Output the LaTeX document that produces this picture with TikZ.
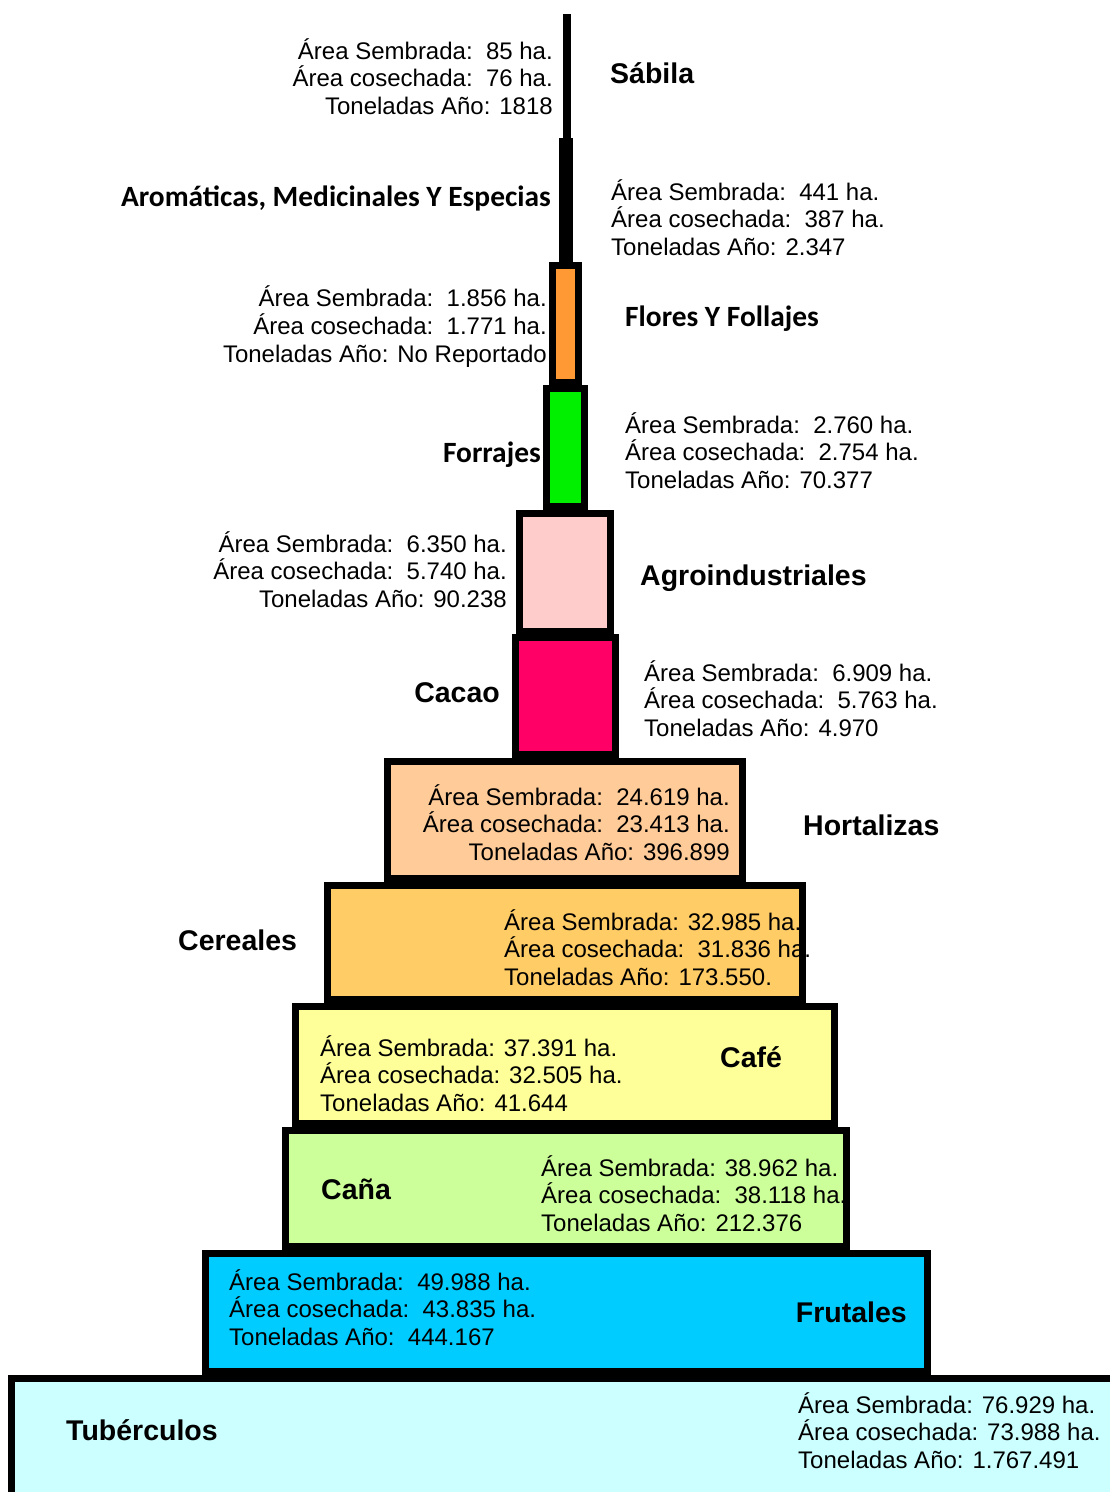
\documentclass[tikz,border=0pt]{standalone}
\usepackage{fontspec}
\setmainfont{Liberation Sans}
\newfontfamily\carlitofont{Carlito}
\definecolor{cflores}{HTML}{FF9933}
\definecolor{cforrajes}{HTML}{00F000}
\definecolor{cagro}{HTML}{FFCCCC}
\definecolor{ccacao}{HTML}{FF0066}
\definecolor{chort}{HTML}{FFCC99}
\definecolor{ccer}{HTML}{FFCC66}
\definecolor{ccafe}{HTML}{FFFF99}
\definecolor{ccana}{HTML}{CCFF99}
\definecolor{cfrut}{HTML}{00CCFF}
\definecolor{ctub}{HTML}{CCFFFF}
\begin{document}
\begin{tikzpicture}[x=1pt,y=-1pt,
  tier/.style={draw=black, line width=7pt, line join=miter},
  info/.style={font=\fontsize{24}{27.6}\selectfont, inner sep=0pt, yshift=1.5pt},
  infoL/.style={info, anchor=west, align=left},
  infoR/.style={info, anchor=east, align=right},
  lab/.style={font=\fontsize{28.5}{32}\selectfont\bfseries, inner sep=0pt},
  clab/.style={font=\fontsize{29.4}{32}\carlitofont\bfseries, inner sep=0pt}]
\path[use as bounding box] (0,0) rectangle (1110,1492);
\begin{scope}
\clip (0,0) rectangle (1110,1492);
% tiers, top to bottom
\fill[black] (563,14) rectangle (571,140);
\fill[black] (559,138) rectangle (573,265);
\draw[tier, fill=cflores] (552.5,265.5) rectangle (578.5,382.5);
\draw[tier, fill=cforrajes] (546.5,388.5) rectangle (584.5,506.5);
\draw[tier, fill=cagro] (519.5,513.5) rectangle (610.5,631);
\draw[tier, fill=ccacao] (515.5,637) rectangle (615.5,754.5);
\draw[tier, fill=chort] (387.5,761.5) rectangle (742.5,878.5);
\draw[tier, fill=ccer] (327.5,885.5) rectangle (802.5,999.5);
\draw[tier, fill=ccafe] (295.5,1006.5) rectangle (834.5,1123.5);
\draw[tier, fill=ccana] (285.5,1130.5) rectangle (846.5,1246.5);
\draw[tier, fill=cfrut] (205.5,1253.5) rectangle (927.5,1371.5);
\draw[tier, fill=ctub] (11.5,1378.5) rectangle (1130,1510);
\end{scope}
% Sábila
\node[infoR] (sabI) at (553,78) {Área Sembrada:\ \ 85 ha.\\Área cosechada:\ \ 76 ha.\\Toneladas Año: 1818};
\node[lab, anchor=west] (sabL) at (610,73) {Sábila};
% Aromáticas
\node[clab, anchor=east] (aroL) at (551,198) {Aromáticas, Medicinales Y Especias};
\node[infoL] (aroI) at (611,219) {Área Sembrada:\ \ 441 ha.\\Área cosechada:\ \ 387 ha.\\Toneladas Año: 2.347};
% Flores
\node[infoR] (florI) at (547,328) {Área Sembrada:\ \ 1.856 ha.\\Área cosechada:\ \ 1.771 ha.\\Toneladas Año: No Reportado};
\node[clab, anchor=west] (florL) at (625,319) {Flores Y Follajes};
% Forrajes
\node[clab, anchor=east] (forL) at (541,455) {Forrajes};
\node[infoL] (forI) at (625,452) {Área Sembrada:\ \ 2.760 ha.\\Área cosechada:\ \ 2.754 ha.\\Toneladas Año: 70.377};
% Agroindustriales
\node[infoR] (agrI) at (507,571) {Área Sembrada:\ \ 6.350 ha.\\Área cosechada:\ \ 5.740 ha.\\Toneladas Año: 90.238};
\node[lab, anchor=west] (agrL) at (640,578) {Agroindustriales};
% Cacao
\node[lab, anchor=east] (cacL) at (500,693) {Cacao};
\node[infoL] (cacI) at (644,700) {Área Sembrada:\ \ 6.909 ha.\\Área cosechada:\ \ 5.763 ha.\\Toneladas Año: 4.970};
% Hortalizas
\node[infoR] (horI) at (730,824) {Área Sembrada:\ \ 24.619 ha.\\Área cosechada:\ \ 23.413 ha.\\Toneladas Año: 396.899};
\node[lab, anchor=west] (horL) at (803,825) {Hortalizas};
% Cereales
\node[lab, anchor=west] (cerL) at (178,940) {Cereales};
\node[infoL] (cerI) at (504,949) {Área Sembrada: 32.985 ha.\\Área cosechada:\ \ 31.836 ha.\\Toneladas Año: 173.550.};
% Café
\node[infoL] (cafI) at (320,1075) {Área Sembrada: 37.391 ha.\\Área cosechada: 32.505 ha.\\Toneladas Año: 41.644};
\node[lab, anchor=west] (cafL) at (720,1057) {Café};
% Caña
\node[lab, anchor=west] (canL) at (321,1189) {Caña};
\node[infoL] (canI) at (541,1195) {Área Sembrada: 38.962 ha.\\Área cosechada:\ \ 38.118 ha.\\Toneladas Año: 212.376};
% Frutales
\node[infoL] (fruI) at (229,1309) {Área Sembrada:\ \ 49.988 ha.\\Área cosechada:\ \ 43.835 ha.\\Toneladas Año:\ \ 444.167};
\node[lab, anchor=east] (fruL) at (907,1312) {Frutales};
% Tubérculos
\node[lab, anchor=west] (tubL) at (66,1430) {Tubérculos};
\node[infoL] (tubI) at (798,1432) {Área Sembrada: 76.929 ha.\\Área cosechada: 73.988 ha.\\Toneladas Año: 1.767.491};
\end{tikzpicture}
\end{document}
